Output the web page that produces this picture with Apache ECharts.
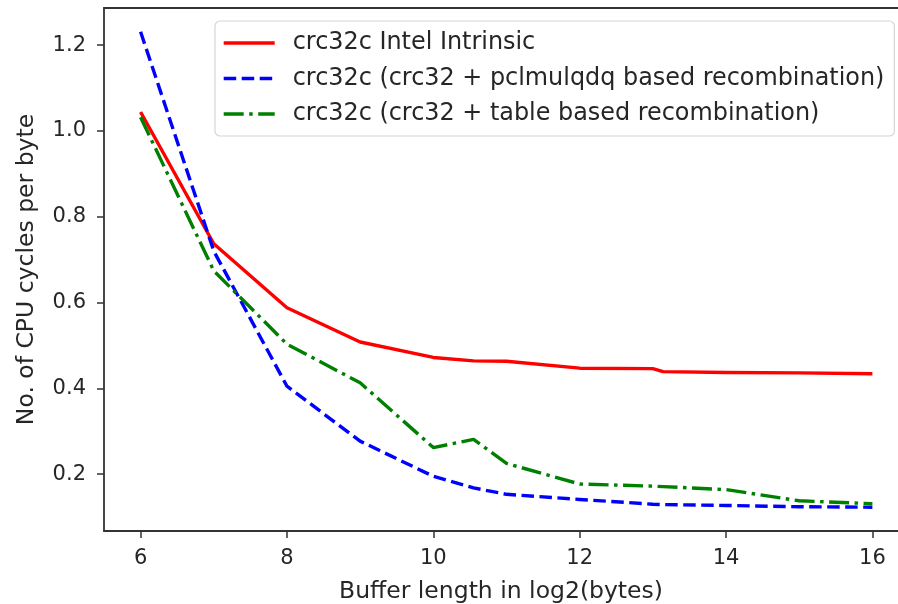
<!DOCTYPE html>
<html>
<head>
<meta charset="utf-8">
<style>
  html, body { margin: 0; padding: 0; background: #fff; }
  #chart { width: 898px; height: 604px; }
</style>
<script src="https://cdn.jsdelivr.net/npm/echarts@6/dist/echarts.min.js"></script>
</head>
<body>
<div id="chart"></div>
<script>
// buffer length in log2(bytes): 64 .. 65536, plus 1500 and 9000
var xValues = [6, 7, 8, 9, 10, 10.55, 11, 12, 13, 13.14, 14, 15, 16]

var intelIntrinsic = [1.044, 0.737, 0.588, 0.508, 0.472, 0.464, 0.463, 0.447, 0.446, 0.439, 0.437, 0.436, 0.434]
var pclmulRecomb   = [1.231, 0.72, 0.405, 0.277, 0.195, 0.168, 0.153, 0.141, 0.130, 0.129, 0.127, 0.124, 0.123]
var tableRecomb    = [1.032, 0.674, 0.503, 0.413, 0.262, 0.281, 0.225, 0.177, 0.172, 0.171, 0.164, 0.138, 0.131]

var seriesNames = [
  'crc32c Intel Intrinsic',
  'crc32c (crc32 + pclmulqdq based recombination)',
  'crc32c (crc32 + table based recombination)'
]

var xTicks = [6, 8, 10, 12, 14, 16]
var yTicks = [0.2, 0.4, 0.6, 0.8, 1.0, 1.2]

function pairs(ys) {
  return xValues.map(function (x, i) { return [x, ys[i]] })
}

var font = 'DejaVu Sans'
var ink = '#262626'
var spine = { color: '#333', width: 1.8 }

// the axes box runs past the right edge of the picture, so x stops at 16.35
var xMin = 5.5, xMax = 16.35

var myChart = echarts.init(document.getElementById('chart'), null, { renderer: 'canvas' })
myChart.setOption({
  animation: false,
  backgroundColor: '#fff',
  textStyle: { fontFamily: font, color: ink },
  grid: { left: 104, right: 0, top: 8, bottom: 73, outerBoundsMode: 'none', containLabel: false },
  legend: {
    orient: 'vertical',
    left: 215, top: 21,
    padding: [10, 10, 10, 7],
    itemWidth: 51, itemHeight: 23, itemGap: 11.5,
    backgroundColor: '#fff',
    borderColor: '#d6d6d6', borderWidth: 1.2, borderRadius: 5,
    itemStyle: { opacity: 0 },
    lineStyle: { width: 3.4 },
    textStyle: { fontFamily: font, fontSize: 23.9, color: ink, padding: [0, 0, 0, 13] },
    data: seriesNames
  },
  xAxis: [
    {
      type: 'value', min: xMin, max: xMax,
      name: 'Buffer length in log2(bytes)', nameLocation: 'middle', nameGap: 49,
      nameTextStyle: { fontFamily: font, fontSize: 23.5, color: ink },
      splitLine: { show: false },
      axisLine: { show: true, onZero: false, lineStyle: spine },
      axisTick: { show: true, length: 7, customValues: xTicks, lineStyle: { color: '#333', width: 1.5 } },
      axisLabel: { customValues: xTicks, margin: 17, fontFamily: font, fontSize: 21, color: ink }
    },
    {
      type: 'value', min: xMin, max: xMax, position: 'top',
      splitLine: { show: false },
      axisLine: { show: true, onZero: false, lineStyle: spine },
      axisTick: { show: false },
      axisLabel: { show: false }
    }
  ],
  yAxis: {
    type: 'value', min: 0.0675, max: 1.2865,
    name: 'No. of CPU cycles per byte', nameLocation: 'middle', nameGap: 65, nameRotate: 90,
    nameTextStyle: { fontFamily: font, fontSize: 23.5, color: ink },
    splitLine: { show: false },
    axisLine: { show: true, onZero: false, lineStyle: spine },
    axisTick: { show: true, length: 7, customValues: yTicks, lineStyle: { color: '#333', width: 1.5 } },
    axisLabel: {
      customValues: yTicks, margin: 18, fontFamily: font, fontSize: 21, color: ink,
      formatter: function (v) { return v.toFixed(1) }
    }
  },
  series: [
    {
      name: seriesNames[0], type: 'line', data: pairs(intelIntrinsic),
      symbol: 'none', color: '#ff0000',
      lineStyle: { color: '#ff0000', width: 3.4, join: 'round' }
    },
    {
      name: seriesNames[1], type: 'line', data: pairs(pclmulRecomb),
      symbol: 'none', color: '#0000ff',
      lineStyle: { color: '#0000ff', width: 3.4, type: [12.5, 5.5], join: 'round' }
    },
    {
      name: seriesNames[2], type: 'line', data: pairs(tableRecomb),
      symbol: 'none', color: '#008000',
      lineStyle: { color: '#008000', width: 3.4, type: [20, 5.5, 3.5, 5.5], join: 'round' }
    }
  ]
}, true)
</script>
</body>
</html>
